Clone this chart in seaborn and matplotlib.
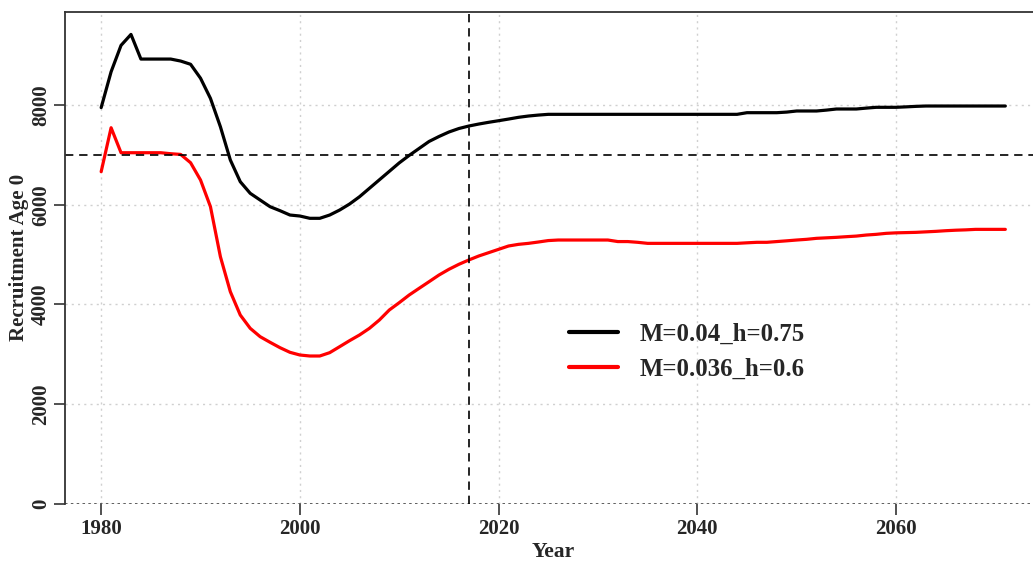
import numpy as np
import pandas as pd
import matplotlib
matplotlib.use("Agg")
import matplotlib.pyplot as plt
import seaborn as sns

# Recruitment at age 0 for two natural-mortality / steepness scenarios
years = list(range(1980, 2072))

rec_m004_h075 = [
    7950, 8670, 9200, 9420, 8925, 8925, 8925, 8925, 8885, 8820,   # 1980-1989
    8540, 8135, 7566, 6898, 6462, 6229, 6094, 5960, 5880, 5793,   # 1990-1999
    5773, 5727, 5727, 5793, 5893, 6014, 6160, 6330, 6500, 6670,   # 2000-2009
    6840, 6990, 7130, 7270, 7370, 7460, 7530, 7580, 7620, 7655,   # 2010-2019
    7687, 7720, 7755, 7781, 7800, 7815, 7815, 7815, 7815, 7815,   # 2020-2029
    7815, 7815, 7815, 7815, 7815, 7815, 7815, 7815, 7815, 7815,   # 2030-2039
    7815, 7815, 7815, 7815, 7815, 7848, 7848, 7848, 7848, 7860,   # 2040-2049
    7882, 7882, 7882, 7900, 7922, 7922, 7922, 7940, 7956, 7956,   # 2050-2059
    7956, 7965, 7975, 7982, 7982, 7982, 7982, 7982, 7982, 7982,   # 2060-2069
    7982, 7982,                                                   # 2070-2071
]

rec_m0036_h06 = [
    6663, 7546, 7044, 7044, 7044, 7044, 7044, 7024, 7010, 6843,   # 1980-1989
    6496, 5960, 4956, 4253, 3785, 3518, 3350, 3237, 3129, 3036,   # 1990-1999
    2982, 2962, 2962, 3029, 3149, 3270, 3384, 3518, 3685, 3886,   # 2000-2009
    4033, 4187, 4321, 4454, 4588, 4703, 4803, 4890, 4970, 5037,   # 2010-2019
    5104, 5171, 5204, 5224, 5251, 5280, 5291, 5291, 5291, 5291,   # 2020-2029
    5291, 5291, 5260, 5260, 5245, 5224, 5224, 5224, 5224, 5224,   # 2030-2039
    5224, 5224, 5224, 5224, 5224, 5235, 5245, 5245, 5260, 5275,   # 2040-2049
    5291, 5305, 5325, 5335, 5345, 5358, 5370, 5391, 5405, 5425,   # 2050-2059
    5435, 5440, 5445, 5455, 5465, 5478, 5488, 5495, 5505, 5505,   # 2060-2069
    5505, 5505,                                                   # 2070-2071
]

scenario_names = ["M=0.04_h=0.75", "M=0.036_h=0.6"]
scenario_colors = ["black", "red"]

x_ticks = [1980, 2000, 2020, 2040, 2060]
y_ticks = [0, 2000, 4000, 6000, 8000]
ref_year = 2017
ref_recruitment = 7000

df = pd.DataFrame({
    "Year": years * 2,
    "Recruitment": rec_m004_h075 + rec_m0036_h06,
    "Scenario": [scenario_names[0]] * len(years) + [scenario_names[1]] * len(years),
})

sns.set_style("white")
plt.rcParams["font.family"] = ["Liberation Serif", "DejaVu Serif"]
plt.rcParams["font.weight"] = "bold"

fig = plt.figure(figsize=(10.33, 5.63), dpi=100)
ax = fig.add_axes([65 / 1033, 59.5 / 563, 976.5 / 1033, 491.5 / 563])

sns.lineplot(
    data=df, x="Year", y="Recruitment", hue="Scenario",
    palette=dict(zip(scenario_names, scenario_colors)),
    linewidth=2.3, ax=ax, legend=True,
)

xr = years[-1] - years[0]
ax.set_xlim(years[0] - 0.04 * xr, years[-1] + 0.04 * xr)
ax.set_ylim(0, 9870)

# grid
grid_kw = dict(color="#d0d0d0", linestyle=(0, (1.5, 3)), linewidth=1.0, zorder=0)
for xt in x_ticks:
    ax.axvline(xt, **grid_kw)
for yt in y_ticks:
    ax.axhline(yt, **grid_kw)
ax.axhline(0, color="#444444", linestyle=(0, (1.5, 2)), linewidth=1.2, zorder=1)

# reference lines
ax.axhline(ref_recruitment, color="black", linestyle=(0, (5, 3.5)), linewidth=1.2, zorder=2)
ax.axvline(ref_year, color="black", linestyle=(0, (5, 3.5)), linewidth=1.2, zorder=2)

ax.set_xticks(x_ticks)
ax.set_yticks(y_ticks)
ax.set_xticklabels([str(v) for v in x_ticks], fontsize=15, fontweight="bold")
ax.set_yticklabels([str(v) for v in y_ticks], fontsize=15, fontweight="bold",
                   rotation=90, va="center")
ax.tick_params(axis="both", direction="out", length=8, width=1.2, color="#333333",
               left=True, bottom=True)
ax.tick_params(axis="x", pad=3)
ax.tick_params(axis="y", pad=2)

for side in ["left", "top", "right"]:
    ax.spines[side].set_visible(True)
    ax.spines[side].set_color("#333333")
    ax.spines[side].set_linewidth(1.3)
ax.spines["bottom"].set_visible(False)

ax.set_xlabel("Year", fontsize=15.5, fontweight="bold")
ax.set_ylabel("Recruitment Age 0", fontsize=15, fontweight="bold")
ax.xaxis.set_label_coords(0.5, (503.5 - 552) / 491.5)
ax.xaxis.label.set_va("center")
ax.yaxis.set_label_coords((19 - 65) / 976.5, 0.5)
ax.yaxis.label.set_va("center")

leg = ax.legend(
    loc="center left", bbox_to_anchor=(569 / 1033, 1 - 351.5 / 563),
    bbox_transform=fig.transFigure, frameon=False,
    prop={"size": 17.8, "weight": "bold", "family": "Liberation Serif"},
    handlelength=2.0, handletextpad=0.85, labelspacing=0.5, borderpad=0,
    borderaxespad=0,
)
for line in leg.get_lines():
    line.set_linewidth(3)

fig.savefig("out.png", dpi=100)
